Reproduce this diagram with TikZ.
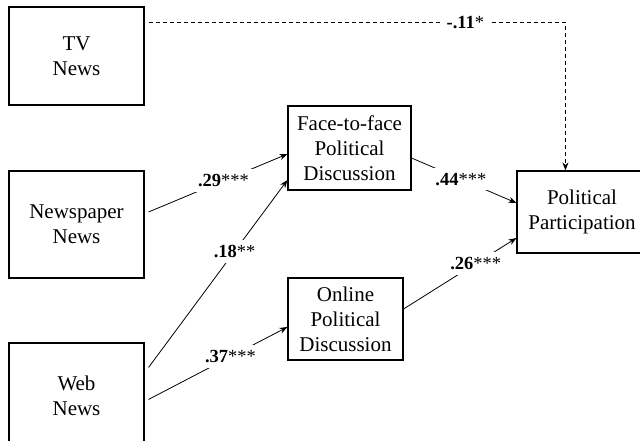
\documentclass[tikz,border=0pt]{standalone}
\usepackage{fontspec}
\setmainfont{Liberation Serif}
\usetikzlibrary{arrows.meta,calc}
\begin{document}
\begin{tikzpicture}[x=1pt,y=-1pt,
  box/.style={draw,line width=1.1pt,inner sep=0pt,align=center,
    font=\fontsize{21}{25}\selectfont},
  link/.style={line width=0.8pt,-{Stealth[length=8pt,width=6pt]}},
  coef/.style={fill=white,inner xsep=5pt,inner ysep=5pt,font=\fontsize{18.5}{21}\selectfont}]
\useasboundingbox (0,0) rectangle (640,441);
\clip (0,0) rectangle (640,441);
\node[box,minimum width=135pt,minimum height=98pt] (tv) at (76.5,56) {TV\\News};
\node[box,minimum width=135pt,minimum height=107pt] (np) at (76.5,224.5) {Newspaper\\News};
\node[box,minimum width=135pt,minimum height=106pt] (web) at (76.5,396) {Web\\News};
\node[box,minimum width=123pt,minimum height=84pt] (ff) at (349.5,148) {Face-to-face\\Political\\Discussion};
\node[box,minimum width=115pt,minimum height=82pt] (on) at (345.5,319) {Online\\Political\\Discussion};
\node[box,minimum width=130pt,minimum height=82pt] (pp) at (582,212) {Political\\Participation};

\draw[link] ($(np.east)+(4,-12.5)$) -- node[coef,pos=0.54] {\textbf{.29}***} ($(ff.west)+(0,6)$);
\draw[link] ($(web.north east)+(4,25)$) -- node[coef,pos=0.62] {\textbf{.18}**} ($(ff.west)+(0,32)$);
\draw[link] ($(web.north east)+(4,57)$) -- node[coef,pos=0.59] {\textbf{.37}***} ($(on.west)+(0,8)$);
\draw[link] ($(ff.east)+(0,10)$) -- node[coef,pos=0.47] {\textbf{.44}***} ($(pp.west)+(0,-9)$);
\draw[link] ($(on.east)+(0,-10)$) -- node[coef,pos=0.64] {\textbf{.26}***} ($(pp.west)+(0,26)$);
\coordinate (corner) at ($(pp.north west)+(49,-148)$);
\draw[line width=0.8pt,dash pattern=on 4pt off 3pt,-{Stealth[length=8pt,width=6pt]}]
  ($(tv.north east)+(4,16)$) -- node[coef,pos=0.76,inner ysep=1pt] {\textbf{-.11}*} (corner) -- ($(pp.north west)+(49,0)$);
\end{tikzpicture}
\end{document}
